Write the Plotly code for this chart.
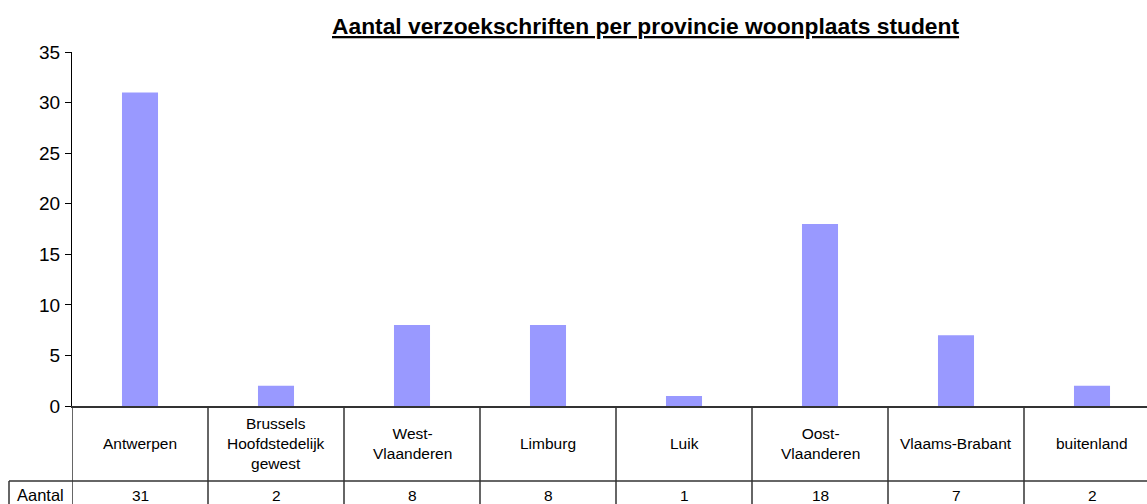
import plotly.graph_objects as go

categories = ["Antwerpen", "Brussels Hoofdstedelijk gewest", "West-Vlaanderen", "Limburg",
              "Luik", "Oost-Vlaanderen", "Vlaams-Brabant", "buitenland"]
table_labels = ["Antwerpen", "Brussels<br>Hoofdstedelijk<br>gewest", "West-<br>Vlaanderen", "Limburg",
                "Luik", "Oost-<br>Vlaanderen", "Vlaams-Brabant", "buitenland"]
values = [31, 2, 8, 8, 1, 18, 7, 2]
series_name = "Aantal"
y_ticks = [0, 5, 10, 15, 20, 25, 30, 35]
title = "Aantal verzoekschriften per provincie woonplaats student"

W, H = 1147, 504
ML, MR, MT, MB = 72, 0, 52, 98
PH = H - MT - MB
PW = W - ML - MR
col_px = 136.0

def py(p):  # pixel row -> paper y
    return (H - MB - p) / PH

def px(p):  # pixel col -> paper x
    return (p - ML) / PW

FONT = "Liberation Sans, Arial, sans-serif"
fig = go.Figure(go.Bar(x=list(range(len(categories))), y=values, name=series_name,
                       marker=dict(color="#9999FF", line=dict(width=0)),
                       hovertext=categories))

xr = [-0.5, -0.5 + PW / col_px]
fig.update_layout(
    width=W, height=H, margin=dict(l=ML, r=MR, t=MT, b=MB),
    paper_bgcolor="white", plot_bgcolor="white",
    bargap=0.735, showlegend=False,
    font=dict(family=FONT, color="black"),
    xaxis=dict(range=xr, showticklabels=False, showgrid=False, zeroline=False,
               showline=True, linecolor="#333", linewidth=1.5, ticks=""),
    yaxis=dict(range=[0, 35], tickvals=y_ticks, showgrid=False, zeroline=False,
               showline=True, linecolor="black", linewidth=1, ticks="outside",
               ticklen=6, tickcolor="black", ticklabelstandoff=1,
               tickfont=dict(size=19, family=FONT)),
)

shapes = []
line_c = "#333"
bottom = py(H + 20)
for i in range(len(categories) + 1):
    xv = i - 0.5
    if xv > xr[1]:
        continue
    shapes.append(dict(type="line", xref="x", yref="paper", x0=xv, x1=xv, y0=0, y1=bottom,
                       line=dict(color=line_c, width=1.5)))
shapes.append(dict(type="line", xref="paper", yref="paper", x0=px(9), x1=1.0, y0=py(481), y1=py(481),
                   line=dict(color=line_c, width=1.5)))
shapes.append(dict(type="line", xref="paper", yref="paper", x0=px(9), x1=px(9), y0=py(481), y1=bottom,
                   line=dict(color=line_c, width=1.5)))
fig.update_layout(shapes=shapes)

ann = []
for i, (lab, v) in enumerate(zip(table_labels, values)):
    ann.append(dict(x=i, xref="x", y=py(443), yref="paper", text=lab, showarrow=False,
                    font=dict(size=15.5, family=FONT), align="center", yanchor="middle"))
    ann.append(dict(x=i, xref="x", y=py(495), yref="paper", text=str(v), showarrow=False,
                    font=dict(size=15.5, family=FONT), yanchor="middle"))
ann.append(dict(x=px(40), xref="paper", xanchor="center", y=py(495), yref="paper", text=series_name,
                showarrow=False, font=dict(size=16.5, family=FONT), yanchor="middle"))
ann.append(dict(x=px(645), xref="paper", xanchor="center", y=py(26), yref="paper",
                text="<b><u>" + title + "</u></b>",
                showarrow=False, font=dict(size=22.8, family=FONT), yanchor="middle"))
fig.update_layout(annotations=ann)

fig.write_html("out.html", config={"displayModeBar": False})
with open("out.html", "r", encoding="utf-8") as f:
    html = f.read()
html = html.replace("<head>", "<head><style>html,body{margin:0;padding:0;overflow:hidden;}</style>", 1)
with open("out.html", "w", encoding="utf-8") as f:
    f.write(html)
